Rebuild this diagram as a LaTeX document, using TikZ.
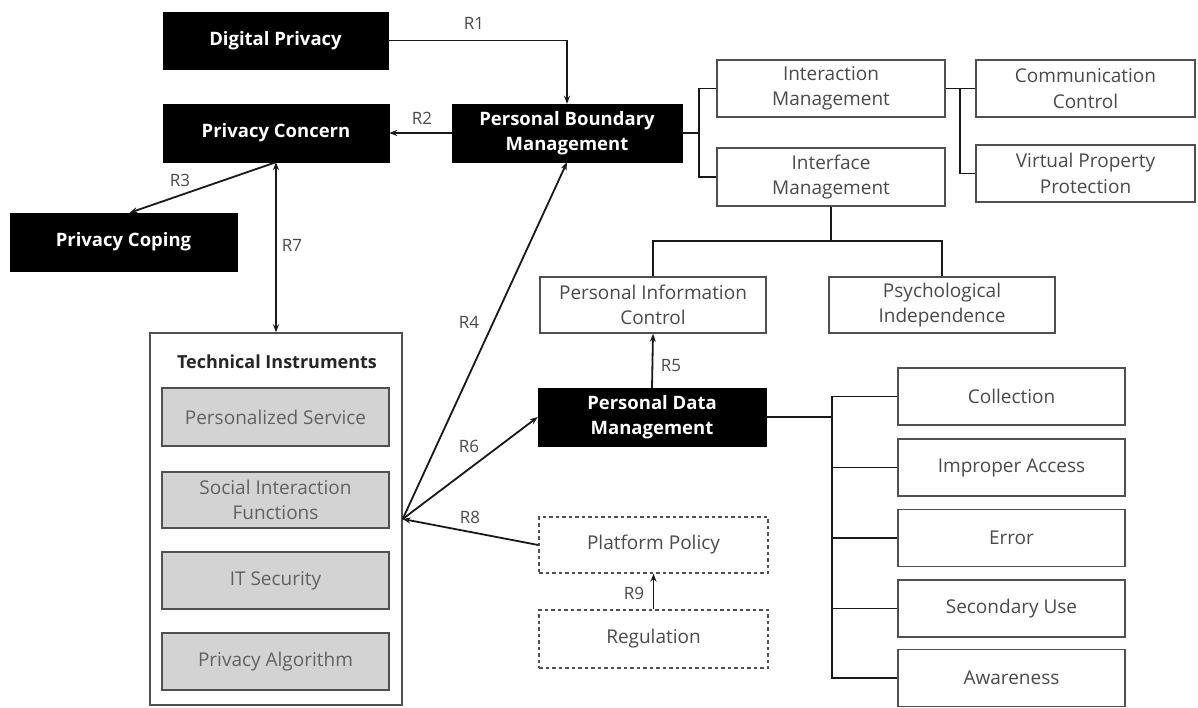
\documentclass[tikz,border=0pt]{standalone}
\usepackage{fontspec}
\setmainfont{Open Sans}
\usetikzlibrary{arrows.meta}
\definecolor{txtgray}{HTML}{4A4A4A}
\definecolor{boxgray}{HTML}{D3D3D3}
\definecolor{edgegray}{HTML}{505050}
\tikzset{
  base/.style={inner sep=2pt, align=center, font=\fontsize{19}{25.5}\selectfont},
  blk/.style={base, fill=black, draw=black, text=white, font=\fontsize{18.5}{25.5}\selectfont\bfseries},
  wbox/.style={base, draw=edgegray, line width=1.4pt, text=txtgray},
  gbox/.style={base, draw=edgegray, fill=boxgray, line width=1.4pt, text=black!62},
  dbox/.style={base, draw=edgegray, line width=1.4pt, dashed, dash pattern=on 3.5pt off 3pt, text=txtgray},
  conn/.style={line width=1.8pt, black!90},
  arr/.style={conn, -{Stealth[length=8pt,width=6pt]}},
  darr/.style={conn, {Stealth[length=8pt,width=6pt]}-{Stealth[length=8pt,width=6pt]}},
  rlab/.style={text=txtgray, font=\fontsize{17}{20}\selectfont, inner sep=1pt},
  sz/.style 2 args={minimum width=#1pt, minimum height=#2pt}
}
\begin{document}
\begin{tikzpicture}[x=1pt,y=-1pt]
\useasboundingbox (0,0) rectangle (1198,707);
\fill[white] (0,0) rectangle (1198,707);

% black boxes
\node[blk, sz={225}{57}] (dp) at (275.5,40.5) {Digital Privacy};
\node[blk, sz={226}{58}] (pc) at (276,133) {Privacy Concern};
\node[blk, sz={227}{58}] (pcop) at (123.5,242) {Privacy Coping};
\node[blk, sz={230}{58}] (pbm) at (567,133) {Personal Boundary\\Management};
\node[blk, sz={228}{58}] (pdm) at (652,417) {Personal Data\\Management};

% upper right boxes
\node[wbox, sz={228}{57}] (im) at (831,88.5) {Interaction\\Management};
\node[wbox, sz={228}{58}] (ifm) at (831,177) {Interface\\Management};
\node[wbox, sz={219}{57}] (cc) at (1085.5,88.5) {Communication\\Control};
\node[wbox, sz={219}{57}] (vpp) at (1085.5,173.5) {Virtual Property\\Protection};
\node[wbox, sz={226}{56}] (pic) at (653,305) {Personal Information\\Control};
\node[wbox, sz={226}{56}] (psy) at (942,305) {Psychological\\Independence};

% lower right boxes
\node[wbox, sz={227}{57}] (col) at (1011.5,396.5) {Collection};
\node[wbox, sz={227}{57}] (ia) at (1011.5,467.5) {Improper Access};
\node[wbox, sz={227}{57}] (err) at (1011.5,538) {Error};
\node[wbox, sz={227}{57}] (su) at (1011.5,608.5) {Secondary Use};
\node[wbox, sz={227}{57}] (aw) at (1011.5,678) {Awareness};

% dashed boxes
\node[dbox, sz={229}{56}] (pp) at (653.5,545) {Platform Policy};
\node[dbox, sz={229}{58}] (reg) at (653.5,639) {Regulation};

% technical instruments
\node[wbox, sz={252}{372}] (ti) at (276,519) {};
\node[base, text=black!85, font=\fontsize{18}{22}\selectfont\bfseries] (tit) at (277,362) {Technical Instruments};
\node[gbox, sz={227}{58}] (ps) at (275.5,417) {Personalized Service};
\node[gbox, sz={227}{56}] (sif) at (275.5,500) {Social Interaction\\Functions};
\node[gbox, sz={227}{57}] (its) at (275.5,580.5) {IT Security};
\node[gbox, sz={227}{57}] (pa) at (275.5,661.5) {Privacy Algorithm};

% bracket coordinates
\coordinate (b1) at (699,133);
\coordinate (b2) at (960,88.5);
\coordinate (b3) at (831,241);
\coordinate (b4) at (832,417);

% brackets
\draw[conn] (pbm.east) -- (b1);
\draw[conn] (im.west) -| (b1) |- (ifm.west);
\draw[conn] (im.east) -- (cc.west);
\draw[conn] (b2) |- (vpp.west);
\draw[conn] (ifm.south) -- (b3);
\draw[conn] (pic.north) |- (b3) -| (psy.north);
\draw[conn] (pdm.east) -- (b4);
\draw[conn] (col.west) -| (b4) |- (aw.west);
\draw[conn] (ia.west) -- (ia.west -| b4);
\draw[conn] (err.west) -- (err.west -| b4);
\draw[conn] (su.west) -- (su.west -| b4);

% relations
\draw[arr] (dp.east) -| (pbm.north);
\node[rlab] (r1) at (474,23) {R1};
\draw[arr] (pbm.west) -- (pc.east);
\node[rlab] (r2) at (422,118) {R2};
\draw[arr] (pc.south) -- ([xshift=6pt]pcop.north);
\node[rlab] (r3) at (180,180) {R3};
\draw[darr] (pc.south) -- (ti.north);
\node[rlab] (r7) at (292,245) {R7};
\draw[arr] (ti.east) -- (pbm.south);
\node[rlab] (r4) at (469,322) {R4};
\draw[arr] (ti.east) -- (pdm.west);
\node[rlab] (r6) at (469,446) {R6};
\draw[arr] (pp.west) -- (ti.east);
\node[rlab] (r8) at (470,517) {R8};
\draw[arr] (pdm.north) -- (pic.south);
\node[rlab] (r5) at (671,366) {R5};
\draw[arr] (reg.north) -- (pp.south);
\node[rlab] (r9) at (634,593) {R9};
\end{tikzpicture}
\end{document}
